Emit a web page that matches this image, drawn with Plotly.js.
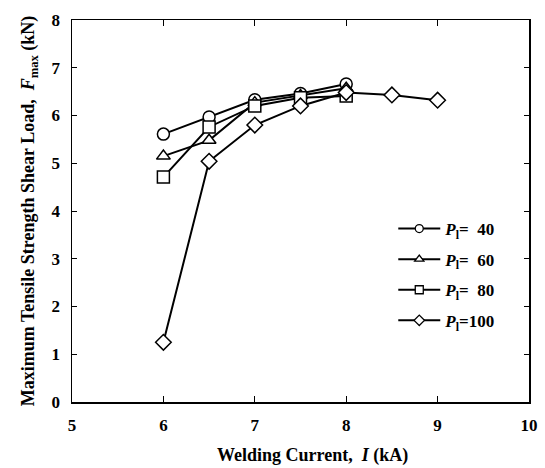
<!DOCTYPE html>
<html>
<head>
<meta charset="utf-8">
<script src="https://cdn.plot.ly/plotly-3.0.1.min.js"></script>
<style>html,body{margin:0;padding:0;background:#fff;}#chart{width:545px;height:468px;}</style>
</head>
<body>
<div id="chart"></div>
<script>
// Welding current (kA)
const current40 = [6, 6.5, 7, 7.5, 8];
const current60 = [6, 6.5, 7, 7.5, 8];
const current80 = [6, 6.5, 7, 7.5, 8];
const current100 = [6, 6.5, 7, 7.5, 8, 8.5, 9];
// Maximum tensile shear load (kN)
const load40 = [5.61, 5.97, 6.33, 6.46, 6.66];
const load60 = [5.15, 5.48, 6.27, 6.42, 6.57];
const load80 = [4.71, 5.76, 6.20, 6.37, 6.41];
const load100 = [1.25, 5.04, 5.80, 6.20, 6.48, 6.43, 6.32];
const seriesNames = ["<i>P</i><sub>l</sub>=\u00a0\u00a040", "<i>P</i><sub>l</sub>=\u00a0\u00a060", "<i>P</i><sub>l</sub>=\u00a0\u00a080", "<i>P</i><sub>l</sub>=100"];
const symbols = ["circle", "triangle-up", "square", "diamond"];
const xTicks = [5, 6, 7, 8, 9, 10];
const yTicks = [0, 1, 2, 3, 4, 5, 6, 7, 8];
const xTitle = "Welding Current,  <i>I</i> (kA)";
const yTitle = "Maximum Tensile Strength Shear Load,  <i>F</i><sub>max</sub> (kN)";

const xs = [current40, current60, current80, current100];
const ys = [load40, load60, load80, load100];
const traces = [];
for (let i = 0; i < 4; i++) {
  traces.push({
    x: xs[i], y: ys[i], type: 'scatter', mode: 'lines+markers',
    showlegend: false,
    line: {color: '#000', width: 2},
    marker: {symbol: symbols[i], size: 12, color: '#fff', line: {color: '#000', width: 1.5}}
  });
}
for (let i = 0; i < 4; i++) {
  traces.push({
    x: [null], y: [null], type: 'scatter', mode: 'lines+markers', name: seriesNames[i],
    legendgroup: 'g' + i,
    line: {color: '#000', width: 2},
    marker: {symbol: symbols[i], size: 8, color: '#fff', line: {color: '#000', width: 1.3}}
  });
}
const F = "Liberation Serif, Times New Roman, serif";
const layout = {
  width: 545, height: 468,
  margin: {l: 72, r: 16, t: 20, b: 66},
  paper_bgcolor: '#fff', plot_bgcolor: '#fff',
  font: {family: F, color: '#000', size: 16, weight: 'bold'},
  showlegend: true,
  legend: {x: 0.703, y: 0.5, xanchor: 'left', yanchor: 'top', bgcolor: 'rgba(0,0,0,0)',
           font: {family: F, size: 17, color: '#000', weight: 'bold'}, tracegroupgap: 5.5, itemwidth: 42},
  annotations: [{
    text: xTitle, xref: 'paper', yref: 'paper', x: 0.527, y: 0, yshift: -53,
    xanchor: 'center', yanchor: 'middle', showarrow: false,
    font: {family: F, size: 18, color: '#000', weight: 'bold'}
  }],
  xaxis: {
    range: [5, 10], tickvals: xTicks, ticktext: xTicks.map(String),
    ticks: 'inside', ticklen: 6, tickwidth: 1, tickcolor: '#000',
    showline: true, linecolor: '#000', linewidth: 1.5, mirror: 'ticks',
    showgrid: false, zeroline: false, ticklabelstandoff: 7,
    tickfont: {family: F, size: 17, weight: 'bold'},
    automargin: false
  },
  yaxis: {
    range: [0, 8], tickvals: yTicks, ticktext: yTicks.map(String),
    ticks: 'inside', ticklen: 5, tickwidth: 1, tickcolor: '#000',
    showline: true, linecolor: '#000', linewidth: 1.5, mirror: 'ticks',
    showgrid: false, zeroline: false, ticklabelstandoff: 7,
    tickfont: {family: F, size: 17, weight: 'bold'},
    title: {text: yTitle, font: {family: F, size: 18, weight: 'bold'}, standoff: 12},
    automargin: false
  }
};
Plotly.newPlot('chart', traces, layout, {displayModeBar: false, staticPlot: true});
</script>
</body>
</html>
